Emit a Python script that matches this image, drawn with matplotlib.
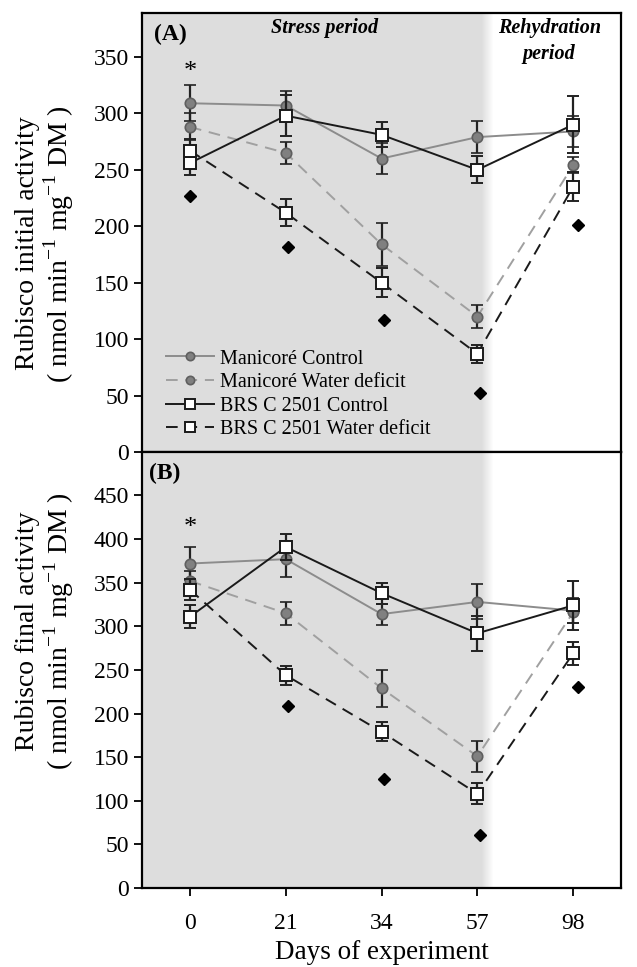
import matplotlib.pyplot as plt
from matplotlib.lines import Line2D
import numpy as np

plt.rcParams['font.family'] = ['Liberation Serif', 'DejaVu Serif']
plt.rcParams['mathtext.fontset'] = 'custom'
plt.rcParams['mathtext.rm'] = 'Liberation Serif'

days = ['0', '21', '34', '57', '98']
x = np.arange(len(days))

# (A) Rubisco initial activity
a_man_ctrl = [309, 307, 260, 279, 284]
a_man_ctrl_err = [16, 13, 14, 14, 14]
a_man_wd = [288, 265, 184, 120, 254]
a_man_wd_err = [12, 10, 19, 10, 7]
a_brs_ctrl = [256, 298, 281, 250, 290]
a_brs_ctrl_err = [11, 18, 11, 12, 25]
a_brs_wd = [267, 212, 150, 87, 235]
a_brs_wd_err = [10, 12, 13, 8, 13]
a_diamond = [227, 182, 117, 52, 201]

# (B) Rubisco final activity
b_man_ctrl = [372, 377, 314, 328, 318]
b_man_ctrl_err = [19, 21, 12, 20, 14]
b_man_wd = [352, 315, 229, 151, 316]
b_man_wd_err = [12, 13, 21, 18, 12]
b_brs_ctrl = [311, 391, 338, 292, 324]
b_brs_ctrl_err = [13, 15, 12, 20, 28]
b_brs_wd = [342, 244, 179, 108, 269]
b_brs_wd_err = [12, 11, 11, 12, 13]
b_diamond = [np.nan, 209, 125, 61, 230]

fig = plt.figure(figsize=(6.37, 9.67), dpi=100)
axA = fig.add_axes([0.223, 0.5326, 0.752, 0.454])
axB = fig.add_axes([0.223, 0.0817, 0.752, 0.451])

gray_c = dict(color='#8c8c8c', lw=1.4, ls='-', marker='o', ms=7.5,
              mfc='#808080', mec='#5f5f5f', mew=1.2)
gray_w = dict(color='#a0a0a0', lw=1.4, ls=(0, (6, 4)), marker='o', ms=7.5,
              mfc='#808080', mec='#5f5f5f', mew=1.2)
blk_c = dict(color='#1a1a1a', lw=1.4, ls='-', marker='s', ms=8,
             mfc='white', mec='#1a1a1a', mew=1.4)
blk_w = dict(color='#1a1a1a', lw=1.4, ls=(0, (6, 4)), marker='s', ms=8,
             mfc='white', mec='#1a1a1a', mew=1.4)

def draw(ax, mc, mce, mw, mwe, bc, bce, bw, bwe, dia, ylim, ticks):
    ax.axvspan(-0.5, 3.05, color='#dddddd', lw=0, zorder=0)
    fade = np.linspace(3.05, 3.16, 12)
    for i in range(11):
        ax.axvspan(fade[i], fade[i + 1], color='#dddddd', lw=0,
                   alpha=1 - (i + 1) / 12, zorder=0)
    ek = dict(ecolor='#222222', elinewidth=1.6, capsize=4, capthick=1.6)
    ax.errorbar(x, mc, yerr=mce, zorder=3, **gray_c, **ek)
    ax.errorbar(x, mw, yerr=mwe, zorder=3, **gray_w, **ek)
    ax.errorbar(x, bc, yerr=bce, zorder=4, **blk_c, **ek)
    ax.errorbar(x, bw, yerr=bwe, zorder=4, **blk_w, **ek)
    ax.plot(x + np.array([0, 0.02, 0.03, 0.03, 0.05]), dia, ls='none',
            marker='D', ms=6.5, color='black', zorder=5)
    ax.set_xlim(-0.5, 4.5)
    ax.set_ylim(*ylim)
    ax.set_yticks(ticks)
    ax.set_xticks(x)
    ax.tick_params(direction='out', labelsize=17, width=1.3, length=6)
    for s in ax.spines.values():
        s.set_linewidth(1.6)

draw(axA, a_man_ctrl, a_man_ctrl_err, a_man_wd, a_man_wd_err,
     a_brs_ctrl, a_brs_ctrl_err, a_brs_wd, a_brs_wd_err, a_diamond,
     (0, 389), np.arange(0, 351, 50))
draw(axB, b_man_ctrl, b_man_ctrl_err, b_man_wd, b_man_wd_err,
     b_brs_ctrl, b_brs_ctrl_err, b_brs_wd, b_brs_wd_err, b_diamond,
     (0, 500), np.arange(0, 451, 50))

axA.set_xticklabels([])
axB.set_xticklabels(days)
axB.tick_params(axis='x', pad=12)
axB.set_xlabel('Days of experiment', fontsize=19.5, labelpad=4)

axA.text(0.025, 0.975, '(A)', transform=axA.transAxes, fontsize=17,
         fontweight='bold', va='top', ha='left')
axB.text(0.015, 0.975, '(B)', transform=axB.transAxes, fontsize=17,
         fontweight='bold', va='top', ha='left')
axA.text(1.4, 376, 'Stress period', fontsize=14.5, fontweight='bold',
         style='italic', ha='center', va='center')
axA.text(3.75, 364, 'Rehydration\nperiod', fontsize=14.5, fontweight='bold',
         style='italic', ha='center', va='center', linespacing=1.4)
axA.text(0, 337, '*', fontsize=19, ha='center', va='center')
axB.text(0, 413, '*', fontsize=19, ha='center', va='center')

labels = ['Manicoré Control', 'Manicoré Water deficit',
          'BRS C 2501 Control', 'BRS C 2501 Water deficit']
handles = []
for st in [gray_c, gray_w, blk_c, blk_w]:
    kw = dict(st)
    kw['ms'] = kw['ms'] - 1.5
    handles.append(Line2D([], [], **kw))
axA.legend(handles, labels, loc='lower left', bbox_to_anchor=(0.012, -0.012),
           frameon=False, fontsize=14.5, handlelength=2.4, handletextpad=0.3,
           labelspacing=0.22, borderaxespad=0.5)

fig.text(0.071, 0.748, 'Rubisco initial activity\n( nmol min$^{-1}$ mg$^{-1}$ DM )',
         rotation=90, ha='center', va='center', fontsize=20,
         multialignment='center', linespacing=1.05)
fig.text(0.071, 0.347, 'Rubisco final activity\n( nmol min$^{-1}$ mg$^{-1}$ DM )',
         rotation=90, ha='center', va='center', fontsize=20,
         multialignment='center', linespacing=1.05)

fig.savefig('out.png', dpi=100)
